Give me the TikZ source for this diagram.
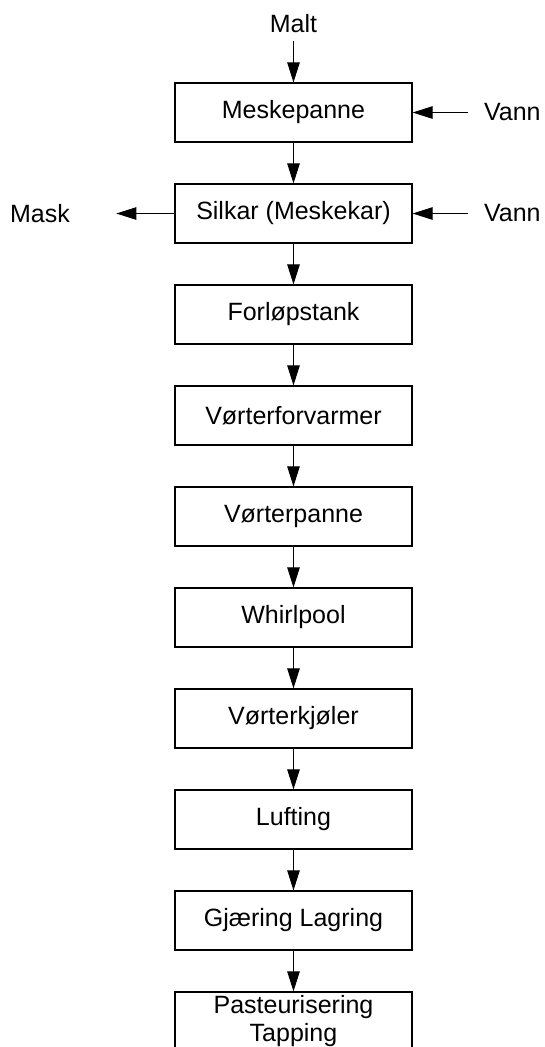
\documentclass[tikz,border=0pt]{standalone}
\usepackage{fontspec}
\setmainfont{Liberation Sans}
\usetikzlibrary{positioning, arrows.meta}

\begin{document}
\begin{tikzpicture}[
    node distance=16.3pt,
    stage/.style={draw, rectangle, line width=0.5pt, minimum height=23.6pt,
      minimum width=94.8pt, inner sep=1pt, align=center,
      font=\fontsize{10}{11.2}\selectfont},
    io/.style={inner sep=0pt, font=\fontsize{10}{11.2}\selectfont},
    arrow/.style={line width=0.4pt, -{Triangle[length=8pt,width=5pt]}}
]
\useasboundingbox (-117.4pt,45pt) rectangle (100.2pt,-373.8pt);

\node[stage] (meske) at (0,0) {Meskepanne};
\node[stage, below=of meske] (silkar) {Silkar (Meskekar)};
\node[stage, below=of silkar] (forlop) {Forløpstank};
\node[stage, below=of forlop] (forvarmer) {Vørterforvarmer};
\node[stage, below=of forvarmer] (panne) {Vørterpanne};
\node[stage, below=of panne] (whirl) {Whirlpool};
\node[stage, below=of whirl] (kjoler) {Vørterkjøler};
\node[stage, below=of kjoler] (lufting) {Lufting};
\node[stage, below=of lufting] (gjaering) {Gjæring Lagring};
\node[stage, below=of gjaering] (tapping) {Pasteurisering\\Tapping};

% inn- og utganger
\node[io, above=19.6pt of meske] (malt) {Malt};
\node[io, right=28.4pt of meske, anchor=west] (vann1) {Vann};
\node[io, right=28.4pt of silkar, anchor=west] (vann2) {Vann};
\node[io, left=41.6pt of silkar, anchor=east] (mask) {Mask};

\draw[arrow, shorten <=3.2pt] (malt) -- (meske);
\draw[arrow, shorten <=6.4pt] (vann1) -- (meske);
\draw[arrow, shorten <=6.4pt] (vann2) -- (silkar);
\draw[arrow, shorten >=18.4pt] (silkar) -- (mask);

\draw[arrow] (meske) -- (silkar);
\draw[arrow] (silkar) -- (forlop);
\draw[arrow] (forlop) -- (forvarmer);
\draw[arrow] (forvarmer) -- (panne);
\draw[arrow] (panne) -- (whirl);
\draw[arrow] (whirl) -- (kjoler);
\draw[arrow] (kjoler) -- (lufting);
\draw[arrow] (lufting) -- (gjaering);
\draw[arrow] (gjaering) -- (tapping);
\end{tikzpicture}
\end{document}
